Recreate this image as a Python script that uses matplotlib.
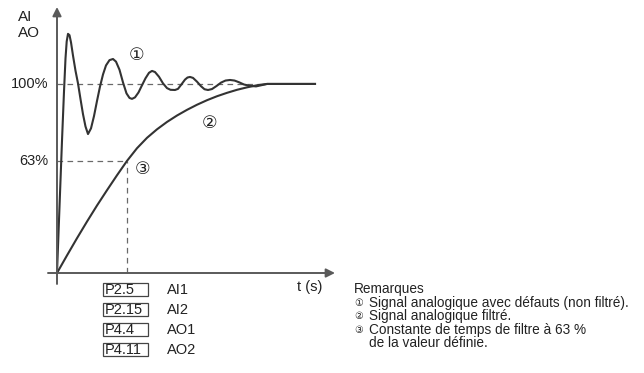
import matplotlib
matplotlib.use('Agg')
import matplotlib.pyplot as plt
from matplotlib.patches import Rectangle

# signal values (t in arbitrary units, level in % of final value)
T_RAW = [0, 0.25, 0.5, 0.7, 0.85, 0.97, 1.1, 1.25, 1.4, 1.6, 1.85, 2.1, 2.35, 2.6, 2.85,
         3.1, 3.4, 3.7, 4.0, 4.3, 4.6, 4.9, 5.25, 5.6, 5.9, 6.25, 6.6, 6.95, 7.25, 7.5,
         7.8, 8.15, 8.5, 8.85, 9.2, 9.5, 9.8, 10.2, 10.6, 11.0, 11.35, 11.8, 12.1, 12.45,
         12.8, 13.05, 13.3, 13.6, 14.0, 14.4, 14.75, 15.1, 15.5, 15.95, 16.4, 16.85, 17.3,
         17.75, 18.2, 18.7, 19.3, 19.9, 20.5, 21.0, 25.8]
Y_RAW = [0, 35, 70, 96, 113.5, 122.5, 126.5, 125.8, 122, 115, 107, 100.3, 92, 84, 77.5,
         73.5, 76.5, 83, 91, 98.6, 105, 109.8, 112.6, 113.2, 111.8, 107.5, 100.8, 95, 92.6,
         92.1, 92.9, 95.5, 99.3, 103, 105.9, 106.9, 106.3, 103.8, 100.3, 97.8, 96.9, 96.8,
         97.4, 99.8, 102.3, 103.4, 103.7, 103.2, 101.2, 98.8, 97.2, 96.8, 97.3, 98.9, 100.7,
         101.8, 102.1, 101.8, 100.9, 99.7, 99.0, 98.7, 99.4, 100.0, 100.0]

T_FILT = [0, 1, 2, 3, 4, 5, 6, 7, 8, 9, 10, 11, 12, 13, 14, 15, 16, 17, 18, 19, 20, 21,
          25.8]
Y_FILT = [0, 9.3, 18.4, 27.2, 35.7, 43.8, 51.7, 59.3, 66.0, 71.5, 76.0, 79.9, 83.3, 86.3,
          89.0, 91.4, 93.5, 95.3, 96.9, 98.2, 99.3, 100.0, 100.0]

LEVELS = [100.0, 59.3]
LEVEL_LABELS = ['100%', '63%']
TAU = 7.0
T_SETTLE = 21.0

PARAMS = ['P2.5', 'P2.15', 'P4.4', 'P4.11']
SIGNALS = ['AI1', 'AI2', 'AO1', 'AO2']

NOTES = ['Signal analogique avec défauts (non filtré).',
         'Signal analogique filtré.',
         'Constante de temps de filtre à 63 %',
         'de la valeur définie.']
NOTE_MARKS = ['①', '②', '③', '']

W, H = 644, 373
fig = plt.figure(figsize=(W / 100, H / 100), dpi=100)
fig.patch.set_facecolor('white')


def px(x, y):
    return x / W, 1 - y / H


ax = fig.add_axes([57 / W, (H - 273) / H, (335 - 57) / W, (273 - 7) / H])
ax.set_xlim(0, 27.8)
ax.set_ylim(0, 140.7)
ax.axis('off')

line_c = '#333333'
axis_c = '#5a5a5a'
dash_c = '#6a6a6a'
txt_c = '#222222'
main_font = ['Liberation Sans', 'DejaVu Sans']
circ_font = ['DejaVu Sans', 'Noto Sans CJK SC']

# axes with arrows
ax.annotate('', xy=(27.8, 0), xytext=(-0.9, 0), annotation_clip=False,
            arrowprops=dict(arrowstyle='-|>', color=axis_c, lw=1.4,
                            mutation_scale=13, shrinkA=0, shrinkB=0))
ax.annotate('', xy=(0, 140.7), xytext=(0, -5.8), annotation_clip=False,
            arrowprops=dict(arrowstyle='-|>', color=axis_c, lw=1.4,
                            mutation_scale=13, shrinkA=0, shrinkB=0))

# reference dashed lines
dash = (0, (4.5, 3.5))
ax.plot([0, T_SETTLE], [LEVELS[0]] * 2, color=dash_c, lw=0.9, ls=dash, clip_on=False)
ax.plot([0, TAU], [LEVELS[1]] * 2, color=dash_c, lw=0.9, ls=dash, clip_on=False)
ax.plot([TAU, TAU], [0, LEVELS[1]], color=dash_c, lw=0.9, ls=dash, clip_on=False)

# curves
ax.plot(T_RAW, Y_RAW, color=line_c, lw=1.5, solid_joinstyle='round', clip_on=False)
ax.plot(T_FILT, Y_FILT, color=line_c, lw=1.5, solid_joinstyle='round', clip_on=False)

for lv, lab in zip(LEVELS, LEVEL_LABELS):
    ax.text(-0.9, lv, lab, ha='right', va='center', fontsize=10.5, color=txt_c,
            family=main_font)

ax.text(8.0, 115.5, '①', ha='center', va='center', fontsize=12.5, color=txt_c, family=circ_font)
ax.text(15.3, 79.4, '②', ha='center', va='center', fontsize=12.5, color=txt_c, family=circ_font)
ax.text(8.6, 55.0, '③', ha='center', va='center', fontsize=12.5, color=txt_c, family=circ_font)

fig.text(*px(18, 25), 'AI\nAO', ha='left', va='center', fontsize=11, color=txt_c,
         family=main_font, linespacing=1.25)
fig.text(*px(310, 287), 't (s)', ha='center', va='center', fontsize=10.5, color=txt_c,
         family=main_font)

# parameter boxes
for i, (p, s) in enumerate(zip(PARAMS, SIGNALS)):
    yc = 289.5 + 20 * i
    x0, y0 = px(103, yc + 6.5)
    fig.add_artist(Rectangle((x0, y0), 45 / W, 13 / H, transform=fig.transFigure,
                             fill=False, edgecolor='#444444', lw=0.9))
    fig.text(*px(104.5, yc + 0.5), p, ha='left', va='center', fontsize=10.5, color=txt_c,
             family=main_font)
    fig.text(*px(167, yc + 0.5), s, ha='left', va='center', fontsize=10.5, color=txt_c,
             family=main_font)

# remarks
fig.text(*px(354, 289), 'Remarques', ha='left', va='center', fontsize=9.8, color=txt_c,
         family=main_font)
for i, (m, n) in enumerate(zip(NOTE_MARKS, NOTES)):
    yc = 303 + 13.4 * i
    if m:
        fig.text(*px(354, yc), m, ha='left', va='center', fontsize=7, color=txt_c,
                 family=circ_font)
    fig.text(*px(369, yc), n, ha='left', va='center', fontsize=9.8, color=txt_c,
             family=main_font)

fig.savefig('out.png', dpi=100)
